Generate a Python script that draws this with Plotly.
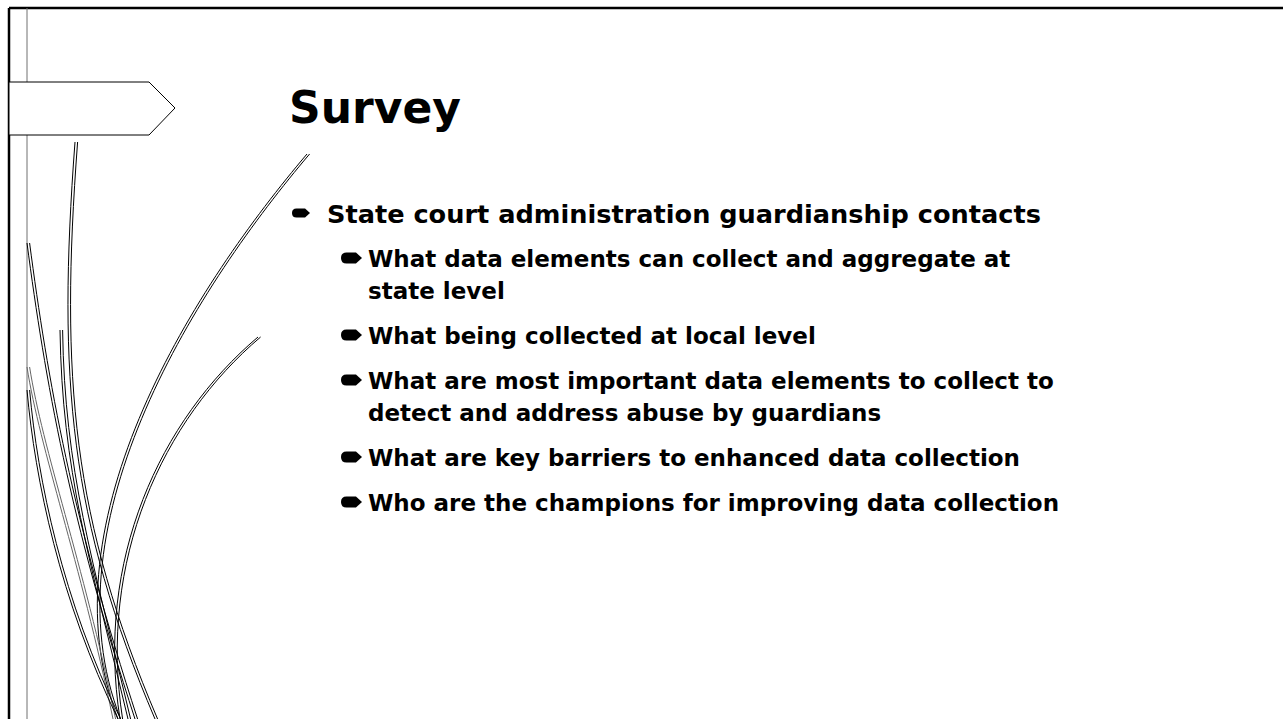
import plotly.graph_objects as go

# ---- content ----
title_text = "Survey"
item_levels = [1, 2, 2, 2, 2, 2, 2, 2]
item_texts = [
    "State court administration guardianship contacts",
    "What data elements can collect and aggregate at",
    "state level",
    "What being collected at local level",
    "What are most important data elements to collect to",
    "detect and address abuse by guardians",
    "What are key barriers to enhanced data collection",
    "Who are the champions for improving data collection",
]
item_is_continuation = [False, False, True, False, False, True, False, False]

# ---- page geometry (pixels) ----
W, H = 1283, 719
FONT = "DejaVu Sans"
fig = go.Figure()

shapes = []
# top and left border
shapes.append(dict(type="line", x0=9, x1=W, y0=8, y1=8, line=dict(color="black", width=2.5)))
shapes.append(dict(type="line", x0=9, x1=9, y0=8, y1=H, line=dict(color="black", width=2.5)))
# thin inner vertical
shapes.append(dict(type="line", x0=27, x1=27, y0=8, y1=H, line=dict(color="#707070", width=1)))

# decorative wisps (cubic Bezier curves, drawn as double lines)
wisps = [
    ((75, 142), (57, 380), (70, 520), (155, 719), "black"),
    ((307, 154), (200, 280), (40, 520), (118, 719), "black"),
    ((258, 337), (160, 420), (95, 560), (120, 719), "black"),
    ((27, 243), (45, 380), (70, 520), (135, 719), "black"),
    ((27, 367), (40, 450), (80, 560), (113, 719), "#666666"),
    ((27, 390), (35, 480), (60, 600), (118, 719), "black"),
    ((60, 330), (62, 470), (90, 560), (128, 719), "black"),
]
for p0, c1, c2, p1, col in wisps:
    for dx, wdt in ((0, 1), (2.6, 1)):
        path = "M{},{} C{},{} {},{} {},{}".format(
            p0[0] + dx, p0[1], c1[0] + dx, c1[1], c2[0] + dx, c2[1], p1[0] + dx, p1[1])
        shapes.append(dict(type="path", path=path, line=dict(color=col, width=wdt),
                           fillcolor="rgba(0,0,0,0)", layer="above"))

# banner arrow on the left
shapes.append(dict(type="path", path="M9,82 L149,82 L175,108 L149,135 L9,135 Z",
                   fillcolor="white", line=dict(color="black", width=1), layer="above"))

# ---- text ----
annotations = []
annotations.append(dict(x=287, y=107, xref="x", yref="y", text="<b>" + title_text + "</b>",
                        showarrow=False, xanchor="left", yanchor="middle",
                        font=dict(family=FONT, size=44, color="black")))

y = 213
first = True
for lvl, txt, cont in zip(item_levels, item_texts, item_is_continuation):
    if not first:
        y += 32 if cont else 45
    first = False
    if lvl == 1:
        tx, size = 327, 25.6
        bx0, bx1, bh = 292, 310, 9
    else:
        tx, size = 368, 23
        bx0, bx1, bh = 341, 362, 11
    annotations.append(dict(x=tx - 2, y=y + 1, xref="x", yref="y", text="<b>" + txt + "</b>",
                            showarrow=False, xanchor="left", yanchor="middle",
                            font=dict(family=FONT, size=size, color="black")))
    if not cont:
        yc = y
        y0, y1 = yc - bh / 2, yc + bh / 2
        tip = bh * 0.55
        r = bh / 2
        path = ("M{a},{y0} L{b},{y0} L{c},{yc} L{b},{y1} L{a},{y1} Q{d},{y1} {d},{yc} Q{d},{y0} {a},{y0} Z"
                .format(a=bx0 + r, b=bx1 - tip, c=bx1, d=bx0, y0=y0, y1=y1, yc=yc))
        shapes.append(dict(type="path", path=path, fillcolor="black", line=dict(color="black", width=0)))

fig.update_layout(
    width=W, height=H, margin=dict(l=0, r=0, t=0, b=0),
    paper_bgcolor="white", plot_bgcolor="white",
    xaxis=dict(range=[0, W], visible=False, fixedrange=True),
    yaxis=dict(range=[H, 0], visible=False, fixedrange=True),
    shapes=shapes, annotations=annotations, showlegend=False,
)
fig.write_html("out.html", config={"displayModeBar": False},
               post_script="document.body.style.margin='0';document.body.style.overflow='hidden';")
